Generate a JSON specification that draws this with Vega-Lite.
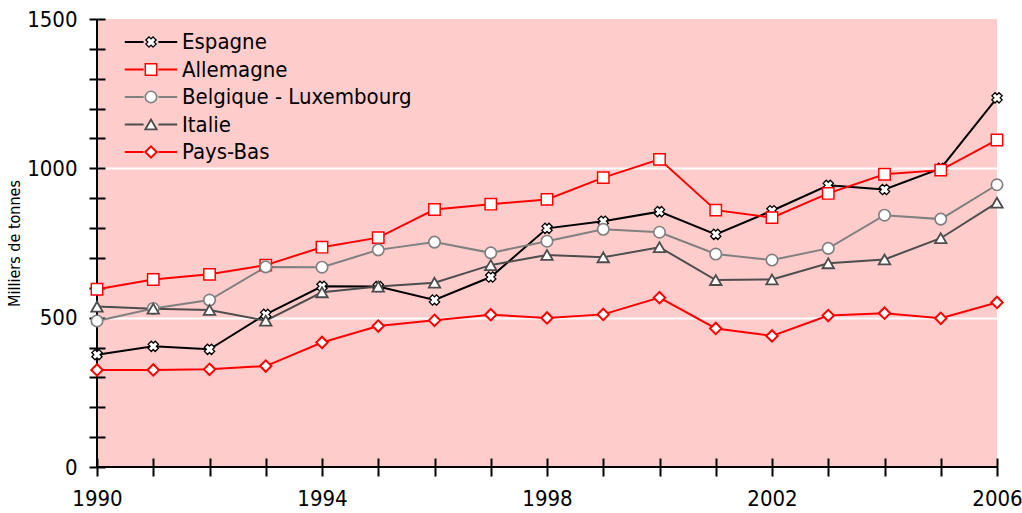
{
  "$schema": "https://vega.github.io/schema/vega-lite/v6.json",
  "width": 900,
  "height": 448,
  "autosize": {"type": "none"},
  "padding": {"left": 97, "top": 19, "right": 25, "bottom": 46},
  "background": "white",
  "config": {
    "view": {"fill": "#FFCCCC", "stroke": null},
    "font": "DejaVu Sans Condensed, sans-serif"
  },
  "data": {
    "values": [
      {"year": 1990, "series": "Espagne", "value": 376},
      {"year": 1991, "series": "Espagne", "value": 404},
      {"year": 1992, "series": "Espagne", "value": 394},
      {"year": 1993, "series": "Espagne", "value": 511},
      {"year": 1994, "series": "Espagne", "value": 605},
      {"year": 1995, "series": "Espagne", "value": 604},
      {"year": 1996, "series": "Espagne", "value": 559},
      {"year": 1997, "series": "Espagne", "value": 636},
      {"year": 1998, "series": "Espagne", "value": 799},
      {"year": 1999, "series": "Espagne", "value": 823},
      {"year": 2000, "series": "Espagne", "value": 855},
      {"year": 2001, "series": "Espagne", "value": 779},
      {"year": 2002, "series": "Espagne", "value": 858},
      {"year": 2003, "series": "Espagne", "value": 943},
      {"year": 2004, "series": "Espagne", "value": 929},
      {"year": 2005, "series": "Espagne", "value": 1000},
      {"year": 2006, "series": "Espagne", "value": 1236},
      {"year": 1990, "series": "Allemagne", "value": 595},
      {"year": 1991, "series": "Allemagne", "value": 628},
      {"year": 1992, "series": "Allemagne", "value": 645},
      {"year": 1993, "series": "Allemagne", "value": 676},
      {"year": 1994, "series": "Allemagne", "value": 736},
      {"year": 1995, "series": "Allemagne", "value": 768},
      {"year": 1996, "series": "Allemagne", "value": 862},
      {"year": 1997, "series": "Allemagne", "value": 880},
      {"year": 1998, "series": "Allemagne", "value": 896},
      {"year": 1999, "series": "Allemagne", "value": 969},
      {"year": 2000, "series": "Allemagne", "value": 1030},
      {"year": 2001, "series": "Allemagne", "value": 860},
      {"year": 2002, "series": "Allemagne", "value": 835},
      {"year": 2003, "series": "Allemagne", "value": 916},
      {"year": 2004, "series": "Allemagne", "value": 980},
      {"year": 2005, "series": "Allemagne", "value": 994},
      {"year": 2006, "series": "Allemagne", "value": 1095},
      {"year": 1990, "series": "Belgique - Luxembourg", "value": 489},
      {"year": 1991, "series": "Belgique - Luxembourg", "value": 531},
      {"year": 1992, "series": "Belgique - Luxembourg", "value": 559},
      {"year": 1993, "series": "Belgique - Luxembourg", "value": 670},
      {"year": 1994, "series": "Belgique - Luxembourg", "value": 669},
      {"year": 1995, "series": "Belgique - Luxembourg", "value": 727},
      {"year": 1996, "series": "Belgique - Luxembourg", "value": 753},
      {"year": 1997, "series": "Belgique - Luxembourg", "value": 717},
      {"year": 1998, "series": "Belgique - Luxembourg", "value": 756},
      {"year": 1999, "series": "Belgique - Luxembourg", "value": 796},
      {"year": 2000, "series": "Belgique - Luxembourg", "value": 786},
      {"year": 2001, "series": "Belgique - Luxembourg", "value": 713},
      {"year": 2002, "series": "Belgique - Luxembourg", "value": 693},
      {"year": 2003, "series": "Belgique - Luxembourg", "value": 732},
      {"year": 2004, "series": "Belgique - Luxembourg", "value": 843},
      {"year": 2005, "series": "Belgique - Luxembourg", "value": 830},
      {"year": 2006, "series": "Belgique - Luxembourg", "value": 945},
      {"year": 1990, "series": "Italie", "value": 537},
      {"year": 1991, "series": "Italie", "value": 530},
      {"year": 1992, "series": "Italie", "value": 526},
      {"year": 1993, "series": "Italie", "value": 490},
      {"year": 1994, "series": "Italie", "value": 585},
      {"year": 1995, "series": "Italie", "value": 604},
      {"year": 1996, "series": "Italie", "value": 617},
      {"year": 1997, "series": "Italie", "value": 676},
      {"year": 1998, "series": "Italie", "value": 710},
      {"year": 1999, "series": "Italie", "value": 702},
      {"year": 2000, "series": "Italie", "value": 736},
      {"year": 2001, "series": "Italie", "value": 626},
      {"year": 2002, "series": "Italie", "value": 628},
      {"year": 2003, "series": "Italie", "value": 682},
      {"year": 2004, "series": "Italie", "value": 695},
      {"year": 2005, "series": "Italie", "value": 766},
      {"year": 2006, "series": "Italie", "value": 885},
      {"year": 1990, "series": "Pays-Bas", "value": 325},
      {"year": 1991, "series": "Pays-Bas", "value": 325},
      {"year": 1992, "series": "Pays-Bas", "value": 327},
      {"year": 1993, "series": "Pays-Bas", "value": 338},
      {"year": 1994, "series": "Pays-Bas", "value": 417},
      {"year": 1995, "series": "Pays-Bas", "value": 472},
      {"year": 1996, "series": "Pays-Bas", "value": 491},
      {"year": 1997, "series": "Pays-Bas", "value": 510},
      {"year": 1998, "series": "Pays-Bas", "value": 499},
      {"year": 1999, "series": "Pays-Bas", "value": 511},
      {"year": 2000, "series": "Pays-Bas", "value": 567},
      {"year": 2001, "series": "Pays-Bas", "value": 464},
      {"year": 2002, "series": "Pays-Bas", "value": 439},
      {"year": 2003, "series": "Pays-Bas", "value": 507},
      {"year": 2004, "series": "Pays-Bas", "value": 515},
      {"year": 2005, "series": "Pays-Bas", "value": 498},
      {"year": 2006, "series": "Pays-Bas", "value": 551}
    ]
  },
  "layer": [
    {
      "mark": {"type": "line", "strokeWidth": 2},
      "encoding": {
        "x": {
          "field": "year", "type": "quantitative", "title": null,
          "scale": {"domain": [1990, 2006], "nice": false, "zero": false},
          "axis": {
            "title": null,
            "values": [1990, 1991, 1992, 1993, 1994, 1995, 1996, 1997, 1998, 1999, 2000, 2001, 2002, 2003, 2004, 2005, 2006],
            "tickCount": 40,
            "format": "d",
            "labelExpr": "datum.value % 4 === 2 ? datum.label : ''",
            "labelFlush": false,
            "labelOverlap": false,
            "labelFontSize": 22,
            "labelColor": "black",
            "labelPadding": 12,
            "domain": false,
            "offset": -9,
            "tickSize": 18,
            "tickWidth": 2,
            "tickColor": "black",
            "grid": false
          }
        },
        "y": {
          "field": "value", "type": "quantitative", "title": "Milliers de tonnes",
          "scale": {"domain": [0, 1500], "nice": false},
          "axis": {
            "title": "Milliers de tonnes",
            "titleFontSize": 16,
            "titleFontWeight": "normal",
            "titleColor": "black",
            "titlePadding": 4,
            "values": [0, 100, 200, 300, 400, 500, 600, 700, 800, 900, 1000, 1100, 1200, 1300, 1400, 1500],
            "tickCount": 40,
            "format": "d",
            "labelExpr": "datum.value % 500 === 0 ? datum.label : ''",
            "labelFlush": false,
            "labelOverlap": false,
            "labelFontSize": 22,
            "labelColor": "black",
            "labelPadding": 12,
            "domain": false,
            "offset": -8,
            "tickSize": 16,
            "tickWidth": 2,
            "tickColor": "black",
            "grid": true,
            "gridColor": "white",
            "gridWidth": 2,
            "gridOpacity": {"condition": {"test": "datum.value === 500 || datum.value === 1000", "value": 1}, "value": 0}
          }
        },
        "stroke": {
          "field": "series", "type": "nominal",
          "sort": ["Espagne", "Allemagne", "Belgique - Luxembourg", "Italie", "Pays-Bas"],
          "scale": {"range": ["#000000", "#FF0000", "#808080", "#4D4D4D", "#FF0000"]},
          "legend": {
            "orient": "none", "legendX": 43, "legendY": 12, "padding": 0,
            "title": null,
            "symbolType": "M-4.6,0H-1.3M1.3,0H4.6",
            "symbolSize": 130,
            "symbolStrokeWidth": 2,
            "labelFontSize": 22,
            "labelColor": "black",
            "labelOffset": 20,
            "labelLimit": 0,
            "rowPadding": 5.5
          }
        }
      }
    },
    {
      "mark": {"type": "rule", "color": "black", "strokeWidth": 2},
      "encoding": {
        "x": {"aggregate": "min", "field": "year", "type": "quantitative", "title": null}
      }
    },
    {
      "mark": {"type": "rule", "color": "black", "strokeWidth": 2},
      "encoding": {
        "y": {"aggregate": "missing", "field": "value", "type": "quantitative", "title": "Milliers de tonnes"}
      }
    },
    {
      "mark": {"type": "point", "filled": false, "fill": "white", "size": 130, "opacity": 1},
      "encoding": {
        "x": {"field": "year", "type": "quantitative", "title": null},
        "y": {"field": "value", "type": "quantitative", "title": "Milliers de tonnes"},
        "strokeWidth": {
          "field": "series", "type": "nominal",
          "scale": {
            "domain": ["Espagne", "Allemagne", "Belgique - Luxembourg", "Italie", "Pays-Bas"],
            "range": [1.3, 2, 2, 2, 2]
          },
          "legend": null
        },
        "color": {
          "field": "series", "type": "nominal",
          "scale": {
            "domain": ["Espagne", "Allemagne", "Belgique - Luxembourg", "Italie", "Pays-Bas"],
            "range": ["#000000", "#FF0000", "#808080", "#4D4D4D", "#FF0000"]
          },
          "legend": {
            "orient": "none", "legendX": 43, "legendY": 12, "padding": 0,
            "title": null,
            "symbolSize": 130,
            "symbolStrokeWidth": 2,
            "symbolFillColor": "white",
            "labelFontSize": 22,
            "labelOpacity": 0,
            "labelOffset": 20,
            "labelLimit": 0,
            "rowPadding": 5.5
          }
        },
        "shape": {
          "field": "series", "type": "nominal",
          "scale": {
            "domain": ["Espagne", "Allemagne", "Belgique - Luxembourg", "Italie", "Pays-Bas"],
            "range": ["M-0.9,-0.35L-0.35,-0.9L0,-0.55L0.35,-0.9L0.9,-0.35L0.55,0L0.9,0.35L0.35,0.9L0,0.55L-0.35,0.9L-0.9,0.35L-0.55,0Z", "square", "circle", "triangle-up", "diamond"]
          },
          "legend": {
            "orient": "none", "legendX": 43, "legendY": 12, "padding": 0,
            "title": null,
            "symbolSize": 130,
            "symbolStrokeWidth": 2,
            "symbolFillColor": "white",
            "labelFontSize": 22,
            "labelOpacity": 0,
            "labelOffset": 20,
            "labelLimit": 0,
            "rowPadding": 5.5
          }
        }
      }
    }
  ]
}
